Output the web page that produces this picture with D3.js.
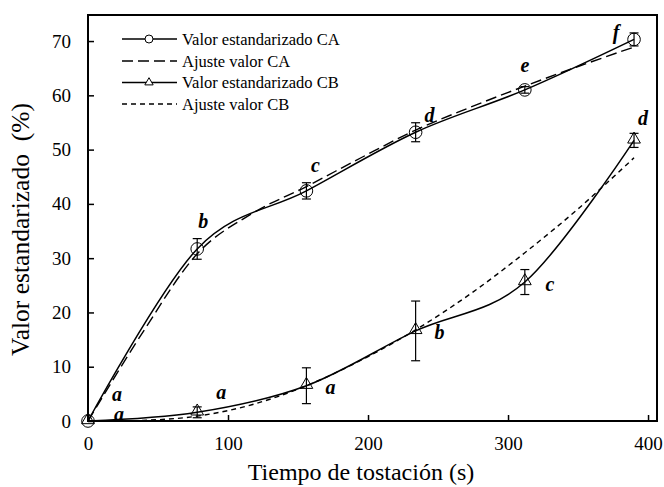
<!DOCTYPE html>
<html><head><meta charset="utf-8">
<script src="https://cdn.jsdelivr.net/npm/d3@7"></script>
<style>body{margin:0;background:#fff}</style>
</head><body><svg id="c" width="664" height="487"></svg>
<script>
const times = [0, 78, 156, 234, 312, 390];
const caValues = [0, 31.7, 42.4, 53.2, 61.0, 70.3];
const caErrors = [0, 1.9, 1.5, 1.75, 0.6, 1.2];
const cbValues = [0, 1.6, 6.5, 16.6, 25.6, 51.7];
const cbErrors = [0, 1.0, 3.3, 5.5, 2.3, 1.3];
const caLetters = ["a", "b", "c", "d", "e", "f"];
const cbLetters = ["a", "a", "a", "b", "c", "d"];
const fitTimes = [0, 39, 78, 117, 156, 195, 234, 273, 312, 351, 390];
const caFit = [0, 16.3, 30.8, 38.2, 43.2, 48.5, 53.6, 57.8, 61.7, 65.4, 68.9];
const cbFit = [0, 0.1, 0.9, 3.0, 6.5, 11.2, 16.8, 23.4, 31.0, 39.3, 48.5];
const xTicks = [0, 100, 200, 300, 400];
const yTicks = [0, 10, 20, 30, 40, 50, 60, 70];
const legendLabels = ["Valor estandarizado CA", "Ajuste valor CA", "Valor estandarizado CB", "Ajuste valor CB"];
const xTitle = "Tiempo de tostación (s)";
const yTitle = "Valor estandarizado\u00a0 (%)";

const svg = d3.select("#c");
const L = 88, R = 657, T = 15, B = 421;
const x = d3.scaleLinear().domain([0, 406.4]).range([L, R]);
const y = d3.scaleLinear().domain([0, 74.8]).range([B, T]);
const font = "Liberation Serif";

// axes (ticks inside)
const xAxis = svg.append("g").attr("transform", `translate(0,${B})`)
  .call(d3.axisBottom(x).tickValues(xTicks).tickSize(-6).tickPadding(16).tickFormat(d3.format("d")));
const yAxis = svg.append("g").attr("transform", `translate(${L},0)`)
  .call(d3.axisLeft(y).tickValues(yTicks).tickSize(-6).tickPadding(17).tickFormat(d3.format("d")));
[xAxis, yAxis].forEach(a => {
  a.attr("font-family", null);
  a.select(".domain").remove();
  a.selectAll(".tick line").attr("stroke", "#000").attr("stroke-width", 1.5);
  a.selectAll(".tick text").style("font-family", font).style("font-size", "19px").attr("fill", "#000");
});
xAxis.selectAll(".tick text").attr("dy", "0.71em");

// frame
svg.append("rect").attr("x", L).attr("y", T).attr("width", R - L).attr("height", B - T)
  .attr("fill", "none").attr("stroke", "#000").attr("stroke-width", 2);

const smooth = d3.line().curve(d3.curveCardinal.tension(0));
const ptsCA = times.map((t, i) => [x(t), y(caValues[i])]);
const ptsCB = times.map((t, i) => [x(t), y(cbValues[i])]);
const fitCA = fitTimes.map((t, i) => [x(t), y(caFit[i])]);
const fitCB = fitTimes.map((t, i) => [x(t), y(cbFit[i])]);

svg.append("path").attr("d", smooth(fitCA)).attr("fill", "none").attr("stroke", "#000")
  .attr("stroke-width", 1.4).attr("stroke-dasharray", "11,5");
svg.append("path").attr("d", smooth(fitCB)).attr("fill", "none").attr("stroke", "#000")
  .attr("stroke-width", 1.4).attr("stroke-dasharray", "5,4");
svg.append("path").attr("d", smooth(ptsCA)).attr("fill", "none").attr("stroke", "#000").attr("stroke-width", 1.5);
svg.append("path").attr("d", smooth(ptsCB)).attr("fill", "none").attr("stroke", "#000").attr("stroke-width", 1.5);

function errorBars(vals, errs) {
  const g = svg.append("g").attr("stroke", "#000").attr("stroke-width", 1.2);
  times.forEach((t, i) => {
    if (!errs[i]) return;
    const cx = x(t), y1 = y(vals[i] + errs[i]), y2 = y(vals[i] - errs[i]);
    g.append("line").attr("x1", cx).attr("x2", cx).attr("y1", y1).attr("y2", y2);
    g.append("line").attr("x1", cx - 4.5).attr("x2", cx + 4.5).attr("y1", y1).attr("y2", y1);
    g.append("line").attr("x1", cx - 4.5).attr("x2", cx + 4.5).attr("y1", y2).attr("y2", y2);
  });
}
errorBars(caValues, caErrors);
errorBars(cbValues, cbErrors);

const tri = d3.symbol().type(d3.symbolTriangle).size(70);
svg.append("g").selectAll("circle").data(ptsCA).join("circle")
  .attr("cx", d => d[0]).attr("cy", d => d[1]).attr("r", 6.3)
  .attr("fill", "none").attr("stroke", "#000").attr("stroke-width", 1);
svg.append("g").selectAll("path").data(ptsCB).join("path")
  .attr("d", tri).attr("transform", d => `translate(${d[0]},${d[1] - 1})`)
  .attr("fill", "none").attr("stroke", "#000").attr("stroke-width", 1);

// significance letters
const caOff = [[29, -26], [6, -27], [9, -25], [14, -17], [0, -24], [-18, -7]];
const cbOff = [[31, -6], [24, -20], [24, 2], [24, 2], [25, 3], [9, -22]];
function letters(pts, labs, offs) {
  svg.append("g").selectAll("text").data(pts).join("text")
    .attr("x", (d, i) => d[0] + offs[i][0]).attr("y", (d, i) => d[1] + offs[i][1])
    .attr("text-anchor", "middle").attr("dy", "0.32em")
    .style("font-family", font).style("font-size", "20px").style("font-weight", "bold").style("font-style", "italic")
    .text((d, i) => labs[i]);
}
letters(ptsCA, caLetters, caOff);
letters(ptsCB, cbLetters, cbOff);

// legend
const legY = [39, 61, 82.5, 104];
const lg = svg.append("g");
legendLabels.forEach((lab, i) => {
  const ly = legY[i];
  const ln = lg.append("line").attr("x1", 122).attr("x2", 177).attr("y1", ly).attr("y2", ly)
    .attr("stroke", "#000").attr("stroke-width", 1.4);
  if (i === 1) ln.attr("stroke-dasharray", "11,5");
  if (i === 3) ln.attr("stroke-dasharray", "5,4");
  if (i === 0) lg.append("circle").attr("cx", 149).attr("cy", ly).attr("r", 4).attr("fill", "#fff").attr("stroke", "#000");
  if (i === 2) lg.append("path").attr("d", d3.symbol().type(d3.symbolTriangle).size(30)).attr("transform", `translate(149,${ly})`).attr("fill", "#fff").attr("stroke", "#000");
  lg.append("text").attr("x", 182).attr("y", ly).attr("dy", "0.35em")
    .style("font-family", font).style("font-size", "16.5px").text(lab);
});

// titles
svg.append("text").attr("x", 361).attr("y", 480).attr("text-anchor", "middle")
  .style("font-family", font).style("font-size", "24px").text(xTitle);
svg.append("text").attr("transform", "translate(29,229.5) rotate(-90)").attr("text-anchor", "middle")
  .style("font-family", font).style("font-size", "25.5px").text(yTitle);
</script>
</body></html>
